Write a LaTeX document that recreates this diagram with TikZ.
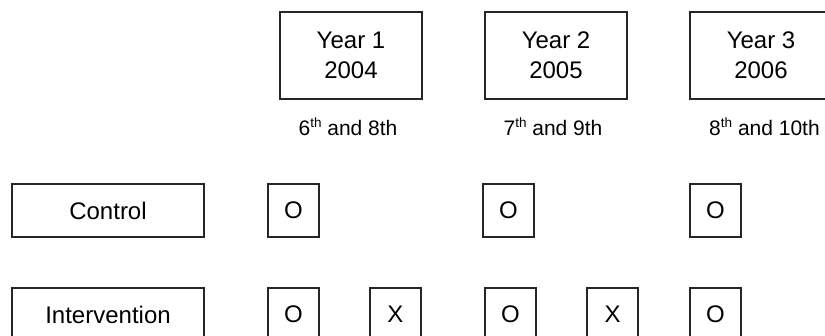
\documentclass[tikz,border=0pt]{standalone}
\usepackage{fontspec}
\setmainfont{Liberation Sans}
\newcommand{\supth}{\raisebox{8.5pt}{\fontsize{13.5}{15}\selectfont th}}
\begin{document}
\begin{tikzpicture}[x=1pt,y=-1pt,
  box/.style={draw=black!85,line width=1.2pt,inner sep=0pt,font=\fontsize{24}{30}\selectfont,align=center},
  yearbox/.style={box,minimum width=142pt,minimum height=87pt},
  groupbox/.style={box,minimum width=192pt,minimum height=53pt},
  cellbox/.style={box,minimum width=51pt,minimum height=53pt},
  gradelabel/.style={inner sep=0pt,font=\fontsize{21}{25}\selectfont}]
\useasboundingbox (0,0) rectangle (825,336);
\clip (0,0) rectangle (825,336);
% year boxes
\node[yearbox] (y1) at (351,55.5) {Year 1\\2004};
\node[yearbox] (y2) at (556,55.5) {Year 2\\2005};
\node[yearbox] (y3) at (761,55.5) {Year 3\\2006};
% grade labels
\node[gradelabel,anchor=base] (g1) at (348,136) {6\supth{} and 8th};
\node[gradelabel,anchor=base] (g2) at (553,136) {7\supth{} and 9th};
\node[gradelabel,anchor=base] (g3) at (764.5,136) {8\supth{} and 10th};
% group boxes
\node[groupbox] (ctrl) at (108,210.5) {Control};
\node[groupbox] (intv) at (108,314.5) {Intervention};
% control row
\node[cellbox] (c1) at (293.5,210.5) {O};
\node[cellbox] (c2) at (508.5,210.5) {O};
\node[cellbox] (c3) at (715.5,210.5) {O};
% intervention row
\node[cellbox] (i1) at (293.5,314.5) {O};
\node[cellbox] (i2) at (395.5,314.5) {X};
\node[cellbox] (i3) at (510.5,314.5) {O};
\node[cellbox] (i4) at (612.5,314.5) {X};
\node[cellbox] (i5) at (715.5,314.5) {O};
\end{tikzpicture}
\end{document}
